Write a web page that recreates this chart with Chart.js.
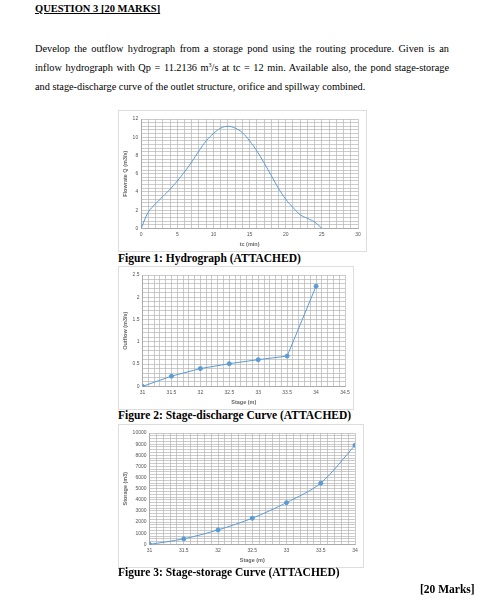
<!DOCTYPE html>
<html><head><meta charset="utf-8">
<script src="https://cdn.jsdelivr.net/npm/chart.js@4"></script>
<style>
body{margin:0;background:#fff;width:482px;height:606px;position:relative;font-family:"Liberation Serif",serif;color:#000}
.t{position:absolute}
.box{position:absolute;border:1px solid #ddd;background:#fff}
.cap{position:absolute;font-weight:bold;font-size:11.5px}
</style></head><body>
<div class="t" style="left:35px;top:3px;font-weight:bold;font-size:10.5px;text-decoration:underline">QUESTION 3 [20 MARKS]</div>
<div class="t" style="left:35px;top:39px;width:414px;font-size:10.3px;line-height:19px;text-align:justify">Develop the outflow hydrograph from a storage pond using the routing procedure. Given is an inflow hydrograph with Qp = 11.2136 m<sup style="font-size:6px;line-height:0">3</sup>/s at tc = 12 min. Available also, the pond stage-storage and stage-discharge curve of the outlet structure, orifice and spillway combined.</div>
<div class="box" style="left:118px;top:110px;width:247px;height:140px"><canvas id="c1"></canvas></div>
<div class="cap" style="left:118px;top:252px">Figure 1: Hydrograph (ATTACHED)</div>
<div class="box" style="left:118px;top:266px;width:234px;height:142px"><canvas id="c2"></canvas></div>
<div class="cap" style="left:118px;top:409px">Figure 2: Stage-discharge Curve (ATTACHED)</div>
<div class="box" style="left:118px;top:424px;width:244px;height:142px"><canvas id="c3"></canvas></div>
<div class="cap" style="left:118px;top:566px">Figure 3: Stage-storage Curve (ATTACHED)</div>
<div class="cap" style="left:420px;top:583px">[20 Marks]</div>
<script>
const hydroT=[0,1,2,3,4,5,6,7,8,9,10,11,12,13,14,15,16,17,18,19,20,21,22,23,24,25];
const hydroQ=[0,1.8,2.7,3.5,4.3,5.2,6.2,7.3,8.5,9.6,10.4,11.0,11.2,11.0,10.5,9.6,8.5,7.2,5.8,4.4,3.2,2.3,1.5,1.1,0.7,0];
const stage2=[31,31.5,32,32.5,33,33.5,34];
const outflow=[0,0.23,0.4,0.51,0.6,0.68,2.25];
const stage3=[31,31.5,32,32.5,33,33.5,34];
const storage=[0,500,1300,2350,3750,5500,8900];
const blue='#5b9bd5';
const tf={size:5,family:'Liberation Sans'};
function xy(a,b){return a.map((v,i)=>({x:v,y:b[i]}));}
function axis(min,max,step,major,title,dec){
  return {type:'linear',min,max,grid:{color:'#b4b4b4',lineWidth:0.7,drawTicks:false},border:{color:'#aaa'},
    title:{display:true,text:title,font:{size:5.5,weight:'bold',family:'Liberation Sans'},padding:1},
    ticks:{stepSize:step,autoSkip:false,maxRotation:0,minRotation:0,font:tf,color:'#555',padding:3,
      callback:v=>{const r=Math.round(v/major);return Math.abs(v/major-r)<1e-6?String(+v.toFixed(dec)):'';}}};
}
function mk(id,data,xa,ya,pts,tension){
  new Chart(document.getElementById(id),{type:'scatter',
    data:{datasets:[{data,showLine:true,borderColor:blue,backgroundColor:blue,borderWidth:1,pointRadius:pts,tension}]},
    options:{responsive:true,maintainAspectRatio:false,animation:false,plugins:{legend:{display:false},tooltip:{enabled:false}},
      layout:{padding:{left:2,right:8,top:8,bottom:2}},scales:{x:xa,y:ya}}});
}
mk('c1',xy(hydroT,hydroQ),axis(0,30,1,5,'tc (min)',0),axis(0,12,0.4,2,'Flowrate Q (m3/s)',0),0,0.4);
mk('c2',xy(stage2,outflow),axis(31,34.5,0.1,0.5,'Stage (m)',1),axis(0,2.5,0.1,0.5,'Outflow (m3/s)',1),2,0);
mk('c3',xy(stage3,storage),axis(31,34,0.1,0.5,'Stage (m)',1),axis(0,10000,250,1000,'Storage (m3)',0),2,0.3);
</script>
</body></html>
